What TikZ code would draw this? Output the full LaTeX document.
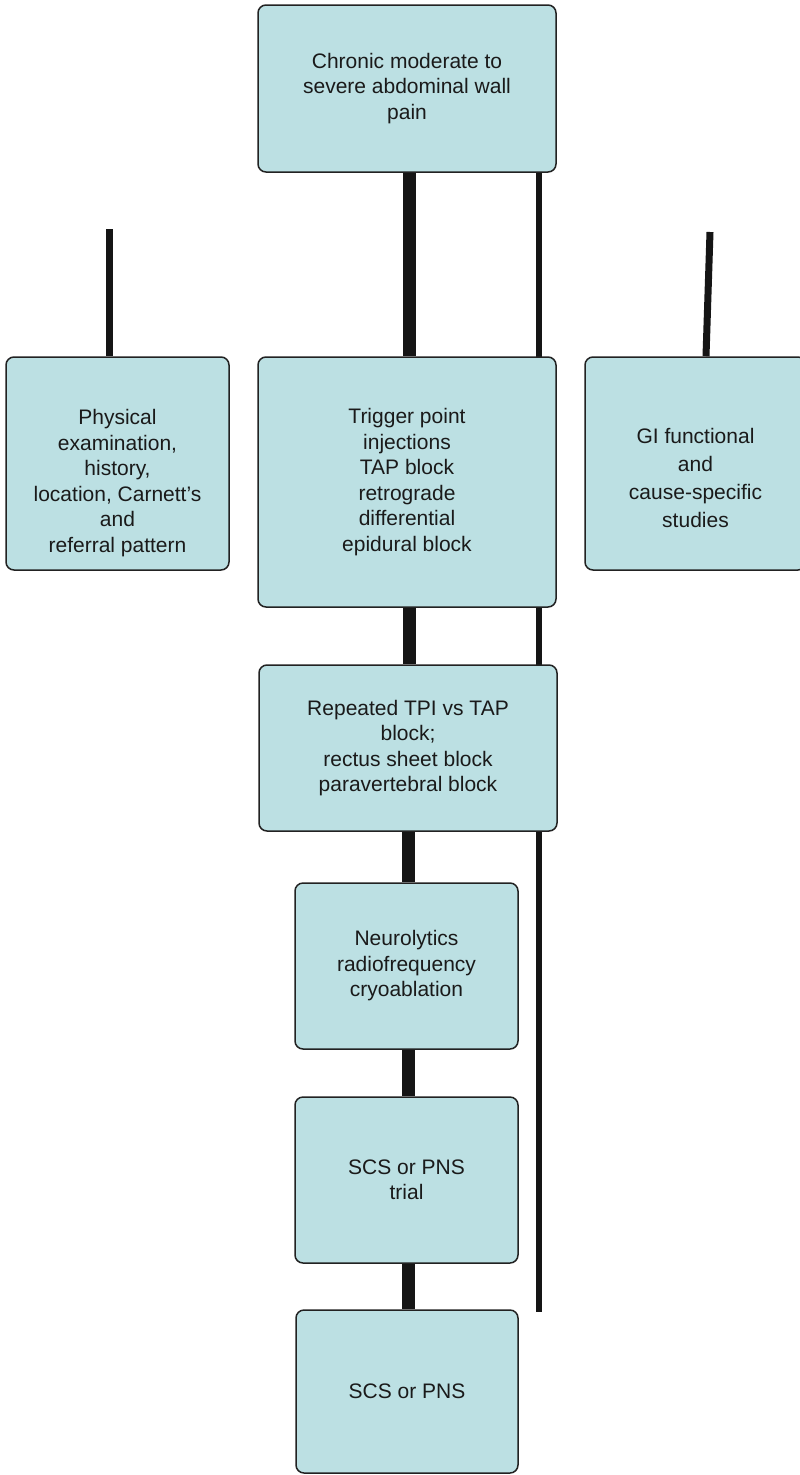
\documentclass[tikz,border=0pt]{standalone}
\usepackage{fontspec}
\setmainfont{Liberation Sans}
\usetikzlibrary{backgrounds}
\definecolor{boxfill}{RGB}{188,224,227}
\definecolor{boxline}{RGB}{34,34,34}
\definecolor{txtcol}{RGB}{26,26,26}
\definecolor{linecol}{RGB}{21,21,21}
\begin{document}
\begin{tikzpicture}[x=1pt,y=-1pt,
  flowbox/.style={draw=boxline, fill=boxfill, rounded corners=8pt, line width=1.5pt,
    inner sep=0pt, align=center, text=txtcol,
    font=\fontsize{21}{25.5}\selectfont},
  boxtext/.style={inner sep=0pt, align=center, text=txtcol,
    font=\fontsize{21}{25.5}\selectfont},
  thickline/.style={draw=linecol, line width=13pt},
  thinline/.style={draw=linecol, line width=6.5pt}]
\useasboundingbox (0,0) rectangle (800,1475);

% boxes
\node[flowbox, minimum width=298pt, minimum height=167pt] (top) at (407,88.5)
  {Chronic moderate to\\severe abdominal wall\\pain};
\node[flowbox, minimum width=298pt, minimum height=250pt] (tpi) at (407,482)
  {Trigger point\\injections\\TAP block\\retrograde\\differential\\epidural block};
\node[flowbox, minimum width=298pt, minimum height=166pt] (rep) at (408,748)
  {Repeated TPI vs TAP\\block;\\rectus sheet block\\paravertebral block};
\node[flowbox, minimum width=223pt, minimum height=166pt] (neuro) at (406.5,966)
  {Neurolytics\\radiofrequency\\cryoablation};
\node[flowbox, minimum width=223pt, minimum height=166pt] (trial) at (406.5,1180)
  {SCS or PNS\\trial};
\node[flowbox, minimum width=222pt, minimum height=163pt] (scs) at (407,1391.5)
  {SCS or PNS};
\node[flowbox, minimum width=223pt, minimum height=213pt] (phys) at (117.5,463.5) {};
\node[boxtext] (physt) at ([yshift=-19.5pt]phys.center)
  {Physical\\examination,\\history,\\location, Carnett’s\\and\\referral pattern};
\node[flowbox, minimum width=221pt, minimum height=213pt] (gi) at (695.5,463.5) {};
\node[boxtext, font=\fontsize{21}{28}\selectfont] (git) at ([yshift=-14pt]gi.center)
  {GI functional\\and\\cause-specific\\studies};

% free ends
\coordinate (thinend) at (539,1312);
\coordinate (leftend) at (109.5,229);
\coordinate (rightend) at (710,232);

% connectors (behind the boxes)
\begin{scope}[on background layer]
\fill[white] (0,0) rectangle (800,1475);
\draw[thickline] ([xshift=2.5pt]top.south) -- ([xshift=2.5pt]tpi.north);
\draw[thickline] ([xshift=2.5pt]tpi.south) -- ([xshift=1.5pt]rep.north);
\draw[thickline] ([xshift=0.5pt]rep.south) -- ([xshift=2pt]neuro.north);
\draw[thickline] ([xshift=2pt]neuro.south) -- ([xshift=2pt]trial.north);
\draw[thickline] ([xshift=2pt]trial.south) -- ([xshift=1.5pt]scs.north);
\draw[thinline] (top.south -| thinend) -- (thinend);
\draw[thinline, line width=7pt] (leftend) -- ([xshift=-8pt]phys.north);
\draw[thinline, line width=7pt] (rightend) -- ([xshift=10.5pt]gi.north);
\end{scope}
\end{tikzpicture}
\end{document}
